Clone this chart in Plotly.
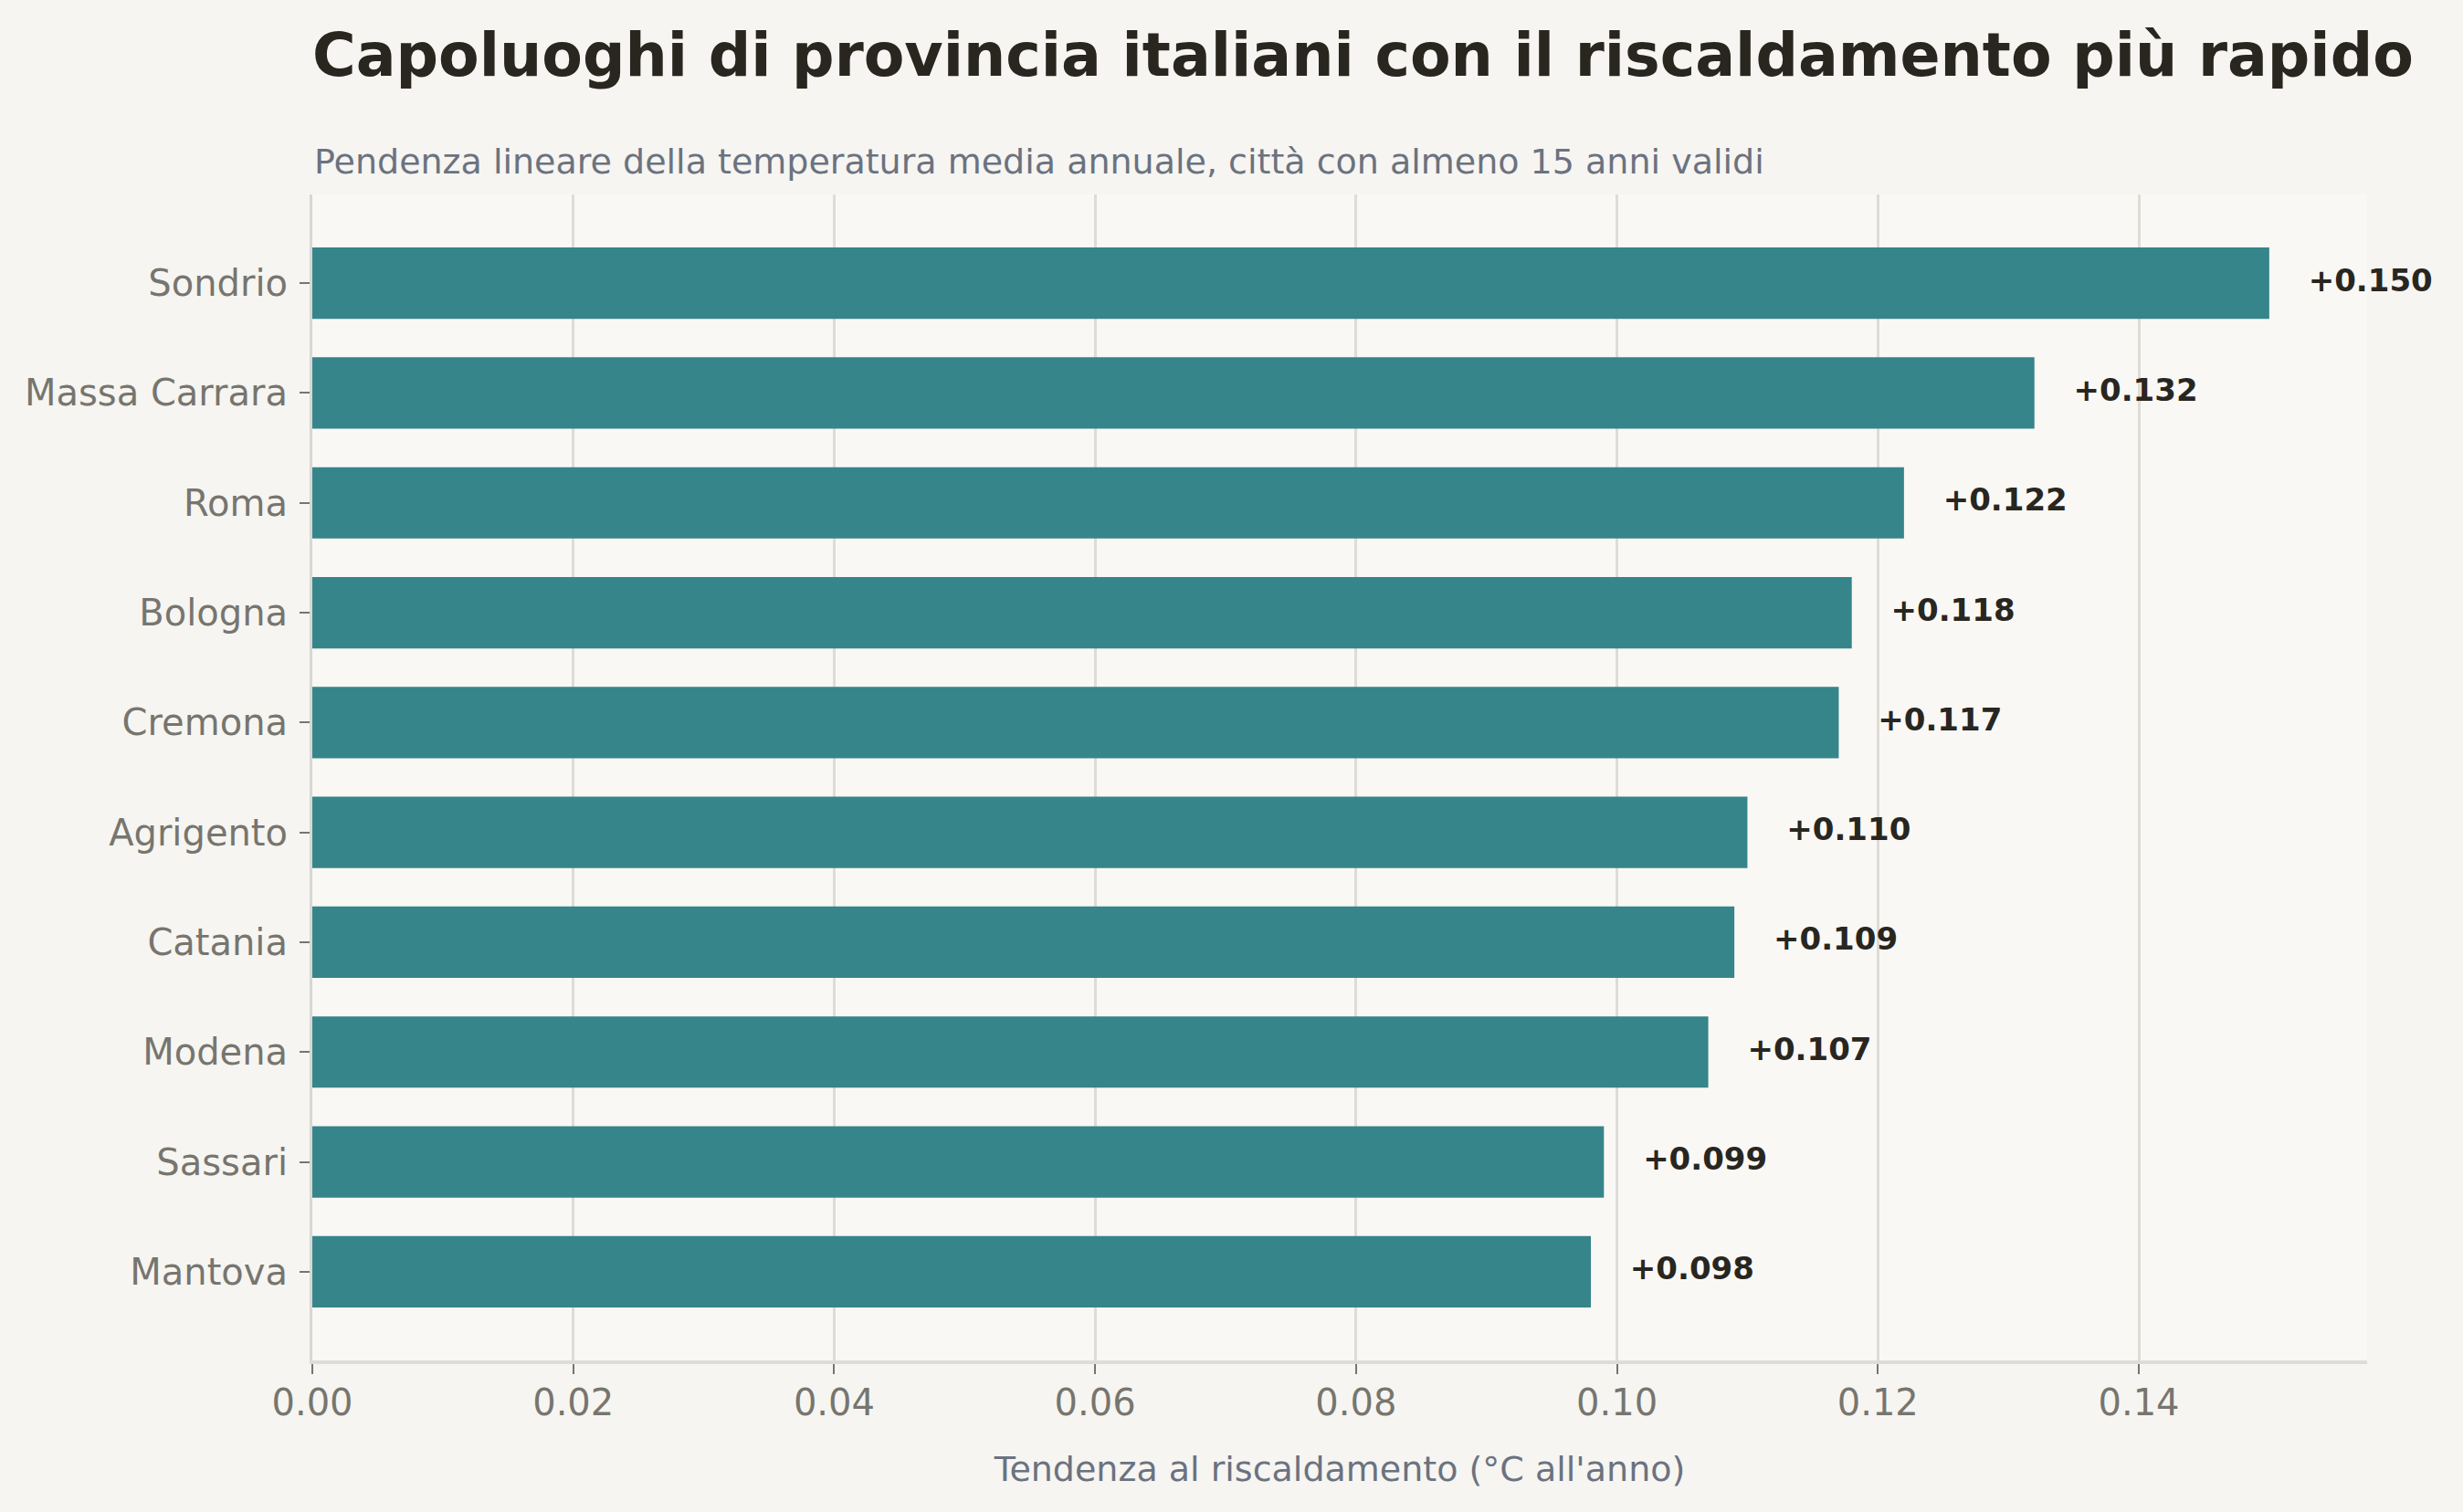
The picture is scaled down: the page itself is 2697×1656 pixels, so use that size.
import plotly.graph_objects as go

# città ordinate dall'alto verso il basso
cities = ['Sondrio', 'Massa Carrara', 'Roma', 'Bologna', 'Cremona',
          'Agrigento', 'Catania', 'Modena', 'Sassari', 'Mantova']
trend = [0.150, 0.132, 0.122, 0.118, 0.117, 0.110, 0.109, 0.107, 0.099, 0.098]
labels = [f'+{v:.3f}' for v in trend]
x_ticks = [0.00, 0.02, 0.04, 0.06, 0.08, 0.10, 0.12, 0.14]

W, H = 2697, 1656
ML, MR, MT, MB = 342, 105, 213, 166
plot_h = H - MT - MB

FONT = 'DejaVu Sans'
BAR = '#36858a'
DARK = '#28261f'
SLATE = '#6b7280'
GRAY = '#77756f'
GRID = '#dddcd7'

fig = go.Figure()

fig.add_trace(go.Bar(
    x=trend, y=cities, orientation='h', width=0.65,
    marker=dict(color=BAR, line=dict(width=0)),
    hoverinfo='skip',
))

# etichette dei valori a destra delle barre
fig.add_trace(go.Scatter(
    x=[v + 0.003 for v in trend], y=cities, mode='text',
    text=labels, textposition='middle right',
    textfont=dict(family=FONT, size=34, color=DARK, weight='bold'),
    hoverinfo='skip', cliponaxis=False,
))

fig.update_layout(
    width=W, height=H,
    margin=dict(l=ML, r=MR, t=MT, b=MB),
    paper_bgcolor='#f6f5f1',
    plot_bgcolor='#f9f8f5',
    showlegend=False,
    font=dict(family=FONT, color=GRAY),
    title=dict(
        text='Capoluoghi di provincia italiani con il riscaldamento più rapido',
        font=dict(family=FONT, size=65, color=DARK, weight='bold'),
        xref='paper', x=0, xanchor='left',
        yref='container', y=1 - 60 / H, yanchor='middle',
    ),
    annotations=[dict(
        text='Pendenza lineare della temperatura media annuale, città con almeno 15 anni validi',
        xref='paper', x=0, xanchor='left',
        yref='paper', y=1 + 36 / plot_h, yanchor='middle',
        showarrow=False,
        font=dict(family=FONT, size=38, color=SLATE),
    )],
)

fig.update_xaxes(
    range=[0, 0.1575],
    tickvals=x_ticks,
    ticktext=[f'{t:.2f}' for t in x_ticks],
    tickfont=dict(family=FONT, size=40, color=GRAY),
    ticks='outside', ticklen=11, tickwidth=2, tickcolor=GRAY,
    ticklabelstandoff=-3,
    showgrid=True, gridcolor=GRID, gridwidth=2.5,
    showline=True, linecolor='#dddcd8', linewidth=3.5,
    zeroline=False,
    layer='above traces',
    title=dict(text="Tendenza al riscaldamento (°C all'anno)",
               font=dict(family=FONT, size=38, color=SLATE), standoff=39),
)

fig.update_yaxes(
    type='category',
    categoryorder='array', categoryarray=cities[::-1],
    range=[-0.8075, 9.8075],
    tickfont=dict(family=FONT, size=40, color=GRAY),
    ticks='outside', ticklen=11, tickwidth=2, tickcolor=GRAY,
    ticklabelstandoff=5,
    showgrid=False,
    showline=True, linecolor='#d8d7d3', linewidth=3,
    zeroline=False,
    layer='above traces',
)

fig.write_html('out.html', config={'displayModeBar': False},
               post_script="document.body.style.margin='0';document.body.style.overflow='hidden';")
